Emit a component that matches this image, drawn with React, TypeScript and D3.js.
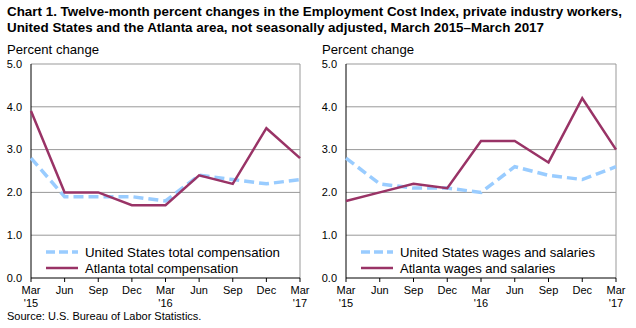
import React from "react";
import * as d3 from "d3";

const quarters = ["Mar", "Jun", "Sep", "Dec", "Mar", "Jun", "Sep", "Dec", "Mar"];
const years = ["'15", "", "", "", "'16", "", "", "", "'17"];
const yTicks = [0, 1, 2, 3, 4, 5];

const usTotal = [2.8, 1.9, 1.9, 1.9, 1.8, 2.4, 2.3, 2.2, 2.3];
const atlTotal = [3.9, 2.0, 2.0, 1.7, 1.7, 2.4, 2.2, 3.5, 2.8];
const usWages = [2.8, 2.2, 2.1, 2.1, 2.0, 2.6, 2.4, 2.3, 2.6];
const atlWages = [1.8, 2.0, 2.2, 2.1, 3.2, 3.2, 2.7, 4.2, 3.0];

const legendLeft = ["United States total compensation", "Atlanta total compensation"];
const legendRight = ["United States wages and salaries", "Atlanta wages and salaries"];

const titleLines = [
  "Chart 1. Twelve-month percent changes in the Employment Cost  Index, private industry  workers,",
  "United  States and the Atlanta area, not seasonally adjusted, March  2015\u2013March  2017",
];

const FONT = "'Liberation Sans', Arial, sans-serif";
const US_COLOR = "#99ccff";
const ATL_COLOR = "#993366";

function Panel({ x0, x1, us, atl, legend }: { x0: number; x1: number; us: number[]; atl: number[]; legend: string[] }) {
  const top = 64;
  const bottom = 278;
  const x = d3.scaleLinear().domain([0, quarters.length - 1]).range([x0, x1]);
  const y = d3.scaleLinear().domain([0, 5]).range([bottom, top]);
  const line = d3
    .line<number>()
    .x((_, i) => x(i))
    .y((d) => y(d));
  return (
    <g>
      <text x={x0 - 24} y={54} fontSize={13.5} fontFamily={FONT} fill="#000" textLength={92} lengthAdjust="spacingAndGlyphs">
        Percent change
      </text>
      {yTicks.map((t) => (
        <g key={t}>
          {t > 0 && <line x1={x0} x2={x1} y1={y(t)} y2={y(t)} stroke="#999" strokeWidth={1} />}
          <text x={x0 - 9} y={y(t)} dy="0.35em" textAnchor="end" fontSize={11} fontFamily={FONT}>
            {t.toFixed(1)}
          </text>
        </g>
      ))}
      <line x1={x1} x2={x1} y1={top} y2={bottom} stroke="#999" strokeWidth={1} />
      <line x1={x0} x2={x0} y1={top} y2={bottom} stroke="#000" strokeWidth={1} />
      <line x1={x0} x2={x1} y1={bottom} y2={bottom} stroke="#000" strokeWidth={1} />
      {quarters.map((q, i) => (
        <g key={i}>
          <line x1={x(i)} x2={x(i)} y1={bottom} y2={bottom + 4} stroke="#000" strokeWidth={1} />
          <text x={x(i)} y={bottom + 16} textAnchor="middle" fontSize={11} fontFamily={FONT}>
            {q}
          </text>
          {years[i] && (
            <text x={x(i)} y={bottom + 29} textAnchor="middle" fontSize={11} fontFamily={FONT}>
              {years[i]}
            </text>
          )}
        </g>
      ))}
      <path d={line(us) || ""} fill="none" stroke={US_COLOR} strokeWidth={3.5} strokeDasharray="10,5" />
      <path d={line(atl) || ""} fill="none" stroke={ATL_COLOR} strokeWidth={2.5} />
      <g>
        <line x1={x0 + 15} x2={x0 + 47} y1={252} y2={252} stroke={US_COLOR} strokeWidth={3.5} strokeDasharray="9,4" />
        <text x={x0 + 54} y={252} dy="0.35em" fontSize={13} fontFamily={FONT} textLength={195} lengthAdjust="spacingAndGlyphs">
          {legend[0]}
        </text>
        <line x1={x0 + 15} x2={x0 + 47} y1={268} y2={268} stroke={ATL_COLOR} strokeWidth={2.5} />
        <text x={x0 + 54} y={268} dy="0.35em" fontSize={13} fontFamily={FONT}>
          {legend[1]}
        </text>
      </g>
    </g>
  );
}

export default function App() {
  return (
    <svg width={636} height={328} style={{ position: "absolute", left: 0, top: 0, background: "#fff" }}>
      <rect width={636} height={328} fill="#fff" />
      <text x={7} y={16} fontSize={13.5} fontWeight="bold" fontFamily={FONT} textLength={615} lengthAdjust="spacingAndGlyphs">
        {titleLines[0]}
      </text>
      <text x={7} y={32} fontSize={13.5} fontWeight="bold" fontFamily={FONT} textLength={537} lengthAdjust="spacingAndGlyphs">
        {titleLines[1]}
      </text>
      <Panel x0={31} x1={300} us={usTotal} atl={atlTotal} legend={legendLeft} />
      <Panel x0={346} x1={616} us={usWages} atl={atlWages} legend={legendRight} />
      <text x={7} y={320} fontSize={11} fontFamily={FONT}>
        Source: U.S. Bureau of Labor Statistics.
      </text>
    </svg>
  );
}
